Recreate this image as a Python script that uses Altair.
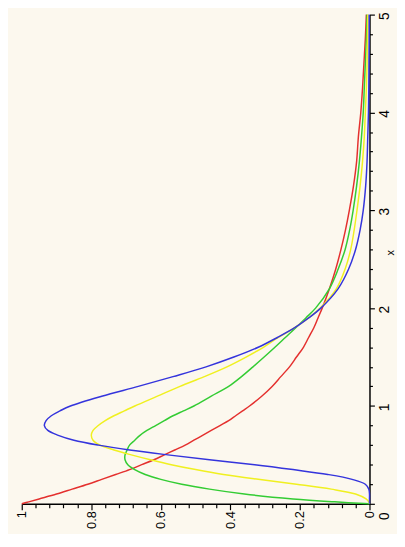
import altair as alt
import pandas as pd

# x positions (the horizontal variable of the original plot)
xs = [0, 0.02, 0.05, 0.1, 0.15, 0.2, 0.25, 0.3, 0.35, 0.4, 0.45, 0.5, 0.55, 0.6, 0.65,
      0.7, 0.75, 0.8, 0.85, 0.9, 0.95, 1.0, 1.1, 1.2, 1.3, 1.4, 1.5, 1.6, 1.7, 1.8,
      1.9, 2.0, 2.2, 2.4, 2.6, 2.8, 3.0, 3.25, 3.5, 3.75, 4.0, 4.25, 4.5, 4.75, 5.0]

red = [1.0, 0.98, 0.95, 0.90, 0.855, 0.81, 0.77, 0.73, 0.69, 0.655, 0.62, 0.59, 0.56, 0.53, 0.505,
       0.48, 0.455, 0.43, 0.405, 0.385, 0.365, 0.345, 0.31, 0.28, 0.255, 0.23, 0.21, 0.19, 0.175, 0.16,
       0.148, 0.136, 0.115, 0.097, 0.082, 0.069, 0.058, 0.046, 0.037, 0.032, 0.025, 0.02, 0.016, 0.012, 0.009]

green = [0.0, 0.10, 0.22, 0.36, 0.46, 0.54, 0.60, 0.645, 0.675, 0.695, 0.703, 0.703, 0.697, 0.69, 0.675,
         0.66, 0.64, 0.615, 0.59, 0.565, 0.535, 0.505, 0.455, 0.405, 0.368, 0.335, 0.303, 0.272, 0.242, 0.212,
         0.183, 0.155, 0.115, 0.09, 0.07, 0.057, 0.047, 0.037, 0.029, 0.023, 0.018, 0.015, 0.012, 0.009, 0.007]

yellow = [0.0, 0.002, 0.01, 0.04, 0.11, 0.21, 0.32, 0.42, 0.50, 0.57, 0.63, 0.685, 0.735, 0.775, 0.795,
          0.80, 0.795, 0.78, 0.76, 0.735, 0.705, 0.675, 0.61, 0.545, 0.475, 0.41, 0.355, 0.305, 0.262, 0.215,
          0.175, 0.142, 0.095, 0.07, 0.054, 0.044, 0.036, 0.027, 0.02, 0.015, 0.012, 0.009, 0.007, 0.006, 0.005]

blue = [0.0, 0.0, 0.0, 0.0, 0.002, 0.012, 0.05, 0.12, 0.22, 0.33, 0.46, 0.58, 0.69, 0.78, 0.85,
        0.895, 0.925, 0.935, 0.93, 0.915, 0.89, 0.86, 0.77, 0.665, 0.565, 0.47, 0.39, 0.32, 0.265, 0.215,
        0.175, 0.14, 0.09, 0.06, 0.04, 0.027, 0.018, 0.011, 0.007, 0.005, 0.003, 0.002, 0.0015, 0.001, 0.001]

curve_names = ["red", "green", "yellow", "blue"]
curve_colors = ["#E4302E", "#33CC33", "#F0F020", "#3434DC"]

# tick positions
x_ticks = [round(0.2 * k, 1) for k in range(26)]     # 0 .. 5 every 0.2
f_ticks = [round(0.04 * k, 2) for k in range(26)]    # 0 .. 1 every 0.04

rows = []
for name, vals in zip(curve_names, [red, green, yellow, blue]):
    for i, (xv, fv) in enumerate(zip(xs, vals)):
        rows.append({"curve": name, "x": xv, "f": fv, "i": i})
df = pd.DataFrame(rows)

FONT = "Liberation Sans"
major_f = "abs(datum.value*5 - round(datum.value*5)) < 0.001"
major_x = "abs(datum.value - round(datum.value)) < 0.001"

chart = alt.Chart(df).mark_line(strokeWidth=1.5, interpolate="catmull-rom").encode(
    x=alt.X("f:Q",
            scale=alt.Scale(domain=[0, 1], reverse=True, nice=False, zero=False),
            axis=alt.Axis(orient="bottom", values=f_ticks, format="~g",
                          labelExpr=major_f + " ? datum.label : ''",
                          tickSize={"condition": {"test": major_f, "value": 6}, "value": 4},
                          labelAngle=-90, labelAlign="right", labelBaseline="middle",
                          labelPadding=1, title=None, grid=False,
                          domainColor="black", domainWidth=1.5, tickColor="black", tickWidth=1.2,
                          labelFont=FONT, labelFontSize=13, labelColor="black")),
    y=alt.Y("x:Q",
            scale=alt.Scale(domain=[0, 5], nice=False, zero=False),
            axis=alt.Axis(orient="right", values=x_ticks, format="~g",
                          labelExpr=major_x + " ? datum.label : ''",
                          tickSize={"condition": {"test": major_x, "value": 5}, "value": 3},
                          labelOffset={"condition": {"test": "datum.value == 0", "value": 12}, "value": 1},
                          labelAngle=-90, labelAlign="center", labelBaseline="top",
                          labelPadding=3, grid=False,
                          title="x", titleAngle=-90, titleFont=FONT, titleFontSize=11,
                          titleFontWeight="normal", titleColor="black",
                          titleX=15, titleY=242, titleAlign="center", titleBaseline="top",
                          domainColor="black", domainWidth=1.5, tickColor="black", tickWidth=1.2,
                          labelFont=FONT, labelFontSize=14, labelColor="black")),
    color=alt.Color("curve:N", scale=alt.Scale(domain=curve_names, range=curve_colors), legend=None),
    order=alt.Order("i:Q"),
).properties(
    width=354, height=498,
    padding={"left": 14, "top": 2, "right": 28, "bottom": 26},
    autosize=alt.AutoSizeParams(type="none"),
    background="#FCF8EE",
).configure_view(stroke="transparent")

chart.save("out.html", embed_options={"renderer": "svg", "actions": False})
